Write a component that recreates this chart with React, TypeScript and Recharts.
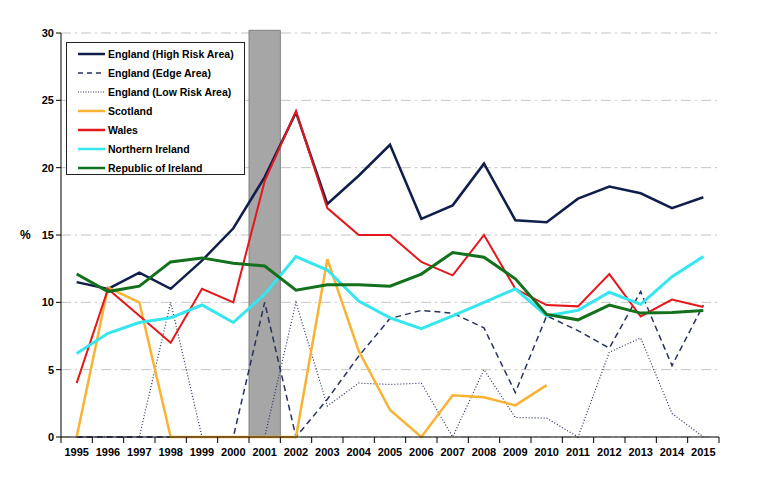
import {
  LineChart,
  Line,
  XAxis,
  YAxis,
  CartesianGrid,
  ReferenceArea,
  Legend,
} from "recharts";

const years = [
  "1995", "1996", "1997", "1998", "1999", "2000", "2001", "2002", "2003", "2004", "2005",
  "2006", "2007", "2008", "2009", "2010", "2011", "2012", "2013", "2014", "2015",
];

const englandHigh = [11.5, 11.0, 12.2, 11.0, 13.1, 15.5, 19.3, 24.1, 17.3, 19.4, 21.7, 16.2, 17.2, 20.3, 16.1, 15.95, 17.7, 18.6, 18.1, 17.0, 17.8];
const englandEdge = [0, 0, 0, 0, 0, 0, 10.0, 0, 2.8, 6.0, 8.8, 9.4, 9.2, 8.1, 3.3, 9.0, 7.9, 6.6, 10.8, 5.3, 9.8];
const englandLow = [0, 0, 0, 10.0, 0, 0, 0, 10.0, 2.3, 4.0, 3.9, 4.0, 0, 5.0, 1.45, 1.4, 0, 6.3, 7.35, 1.75, 0];
const scotland = [0, 11.1, 10.0, 0, 0, 0, 0, 0, 13.2, 6.4, 2.0, 0, 3.1, 2.95, 2.35, 3.85, null, null, null, null, null];
const wales = [4.0, 11.0, 9.0, 7.0, 11.0, 10.0, 19.0, 24.2, 17.0, 15.0, 15.0, 13.0, 12.0, 15.0, 11.0, 9.8, 9.7, 12.1, 8.95, 10.2, 9.65];
const northernIreland = [6.2, 7.7, 8.5, 8.85, 9.8, 8.5, 10.6, 13.4, 12.4, 10.1, 8.85, 8.05, 9.0, 10.0, 11.0, 9.0, 9.4, 10.75, 9.85, 11.9, 13.4];
const republicOfIreland = [12.1, 10.8, 11.2, 13.0, 13.3, 12.9, 12.7, 10.9, 11.3, 11.3, 11.2, 12.1, 13.7, 13.35, 11.75, 9.1, 8.7, 9.8, 9.2, 9.25, 9.4];

const yTicks = [0, 5, 10, 15, 20, 25, 30];

const data = years.map((year, i) => ({
  year,
  englandHigh: englandHigh[i],
  englandEdge: englandEdge[i],
  englandLow: englandLow[i],
  scotland: scotland[i],
  wales: wales[i],
  northernIreland: northernIreland[i],
  republicOfIreland: republicOfIreland[i],
}));

const NAVY = "#101e4c";
const FONT = "'Liberation Sans', Arial, sans-serif";

const series = [
  { key: "englandHigh", name: "England (High Risk Area)", color: NAVY, width: 2.5, dash: undefined },
  { key: "englandEdge", name: "England (Edge Area)", color: "#27325e", width: 1.5, dash: "6 4" },
  { key: "englandLow", name: "England (Low Risk Area)", color: "#27325e", width: 1.2, dash: "1 2" },
  { key: "scotland", name: "Scotland", color: "#f8b334", width: 2.5, dash: undefined },
  { key: "wales", name: "Wales", color: "#e3181c", width: 2, dash: undefined },
  { key: "northernIreland", name: "Northern Ireland", color: "#36e6ef", width: 3, dash: undefined },
  { key: "republicOfIreland", name: "Republic of Ireland", color: "#13701c", width: 3, dash: undefined },
];

const PLOT_LEFT = 61;
const PLOT_RIGHT = 719;
const BAND = (PLOT_RIGHT - PLOT_LEFT) / years.length;

function YearTick(props: any) {
  const { x, y, payload, index } = props;
  const last = index === years.length - 1;
  return (
    <g>
      <line x1={x - BAND / 2} x2={x - BAND / 2} y1={y} y2={y + 6} stroke="#000" />
      {last && <line x1={x + BAND / 2} x2={x + BAND / 2} y1={y} y2={y + 6} stroke="#000" />}
      <text x={x} y={y + 19} textAnchor="middle" fontSize={11} fontWeight="bold" fontFamily={FONT} fill="#000">
        {payload.value}
      </text>
    </g>
  );
}

function LegendBox() {
  return (
    <div
      style={{
        border: "1px solid #222",
        background: "#fff",
        width: 179,
        height: 133,
        boxSizing: "border-box",
        padding: "1px 0 0 10px",
        fontFamily: FONT,
        fontSize: 10.5,
        fontWeight: "bold",
        textAlign: "left",
      }}
    >
      {series.map((s) => (
        <div key={s.key} style={{ display: "flex", alignItems: "center", height: 19 }}>
          <svg width={29} height={10} style={{ marginRight: 2 }}>
            <line
              x1={1}
              x2={28}
              y1={5}
              y2={5}
              stroke={s.color}
              strokeWidth={s.key === "englandLow" ? 1 : s.key === "englandEdge" ? 1.5 : 2.5}
              strokeDasharray={s.key === "englandEdge" ? "5 4" : s.key === "englandLow" ? "1 1.5" : undefined}
            />
          </svg>
          <span style={{ color: "#000", whiteSpace: "nowrap" }}>{s.name}</span>
        </div>
      ))}
    </div>
  );
}

export default function App() {
  return (
    <div style={{ position: "absolute", left: 0, top: 0, background: "#fff" }}>
      <LineChart
        width={763}
        height={498}
        data={data}
        margin={{ top: 33, right: 44, bottom: 36, left: 16 }}
      >
        <CartesianGrid
          horizontal
          vertical={false}
          stroke="#c4c4c4"
          strokeDasharray="10 4 2 4"
        />
        <ReferenceArea
          x1="2001"
          x2="2001"
          y1={0}
          y2={30.2}
          ifOverflow="visible"
          fill="#a6a6a6"
          fillOpacity={1}
          stroke="#808080"
          strokeWidth={1}
        />
        <XAxis
          dataKey="year"
          scale="band"
          interval={0}
          tickLine={false}
          tickSize={0}
          tickMargin={0}
          axisLine={{ stroke: "#000" }}
          tick={<YearTick />}
          height={25}
        />
        <YAxis
          domain={[0, 30]}
          ticks={yTicks}
          width={45}
          axisLine={{ stroke: "#000" }}
          tickLine={{ stroke: "#000" }}
          tickSize={5}
          tick={{ fontSize: 11, fontWeight: "bold", fill: "#000", fontFamily: FONT }}
          label={{
            value: "%",
            position: "insideLeft",
            offset: 4,
            style: { fontSize: 12, fontWeight: "bold", fill: "#000", fontFamily: FONT },
          }}
        />
        {series.map((s) => (
          <Line
            key={s.key}
            dataKey={s.key}
            name={s.name}
            stroke={s.color}
            strokeWidth={s.width}
            strokeDasharray={s.dash}
            dot={false}
            activeDot={false}
            type="linear"
            isAnimationActive={false}
          />
        ))}
        <Legend
          layout="vertical"
          align="center"
          verticalAlign="middle"
          content={<LegendBox />}
          wrapperStyle={{ position: "absolute", left: 66, top: 42, width: 179, height: 133 }}
        />
      </LineChart>
    </div>
  );
}
